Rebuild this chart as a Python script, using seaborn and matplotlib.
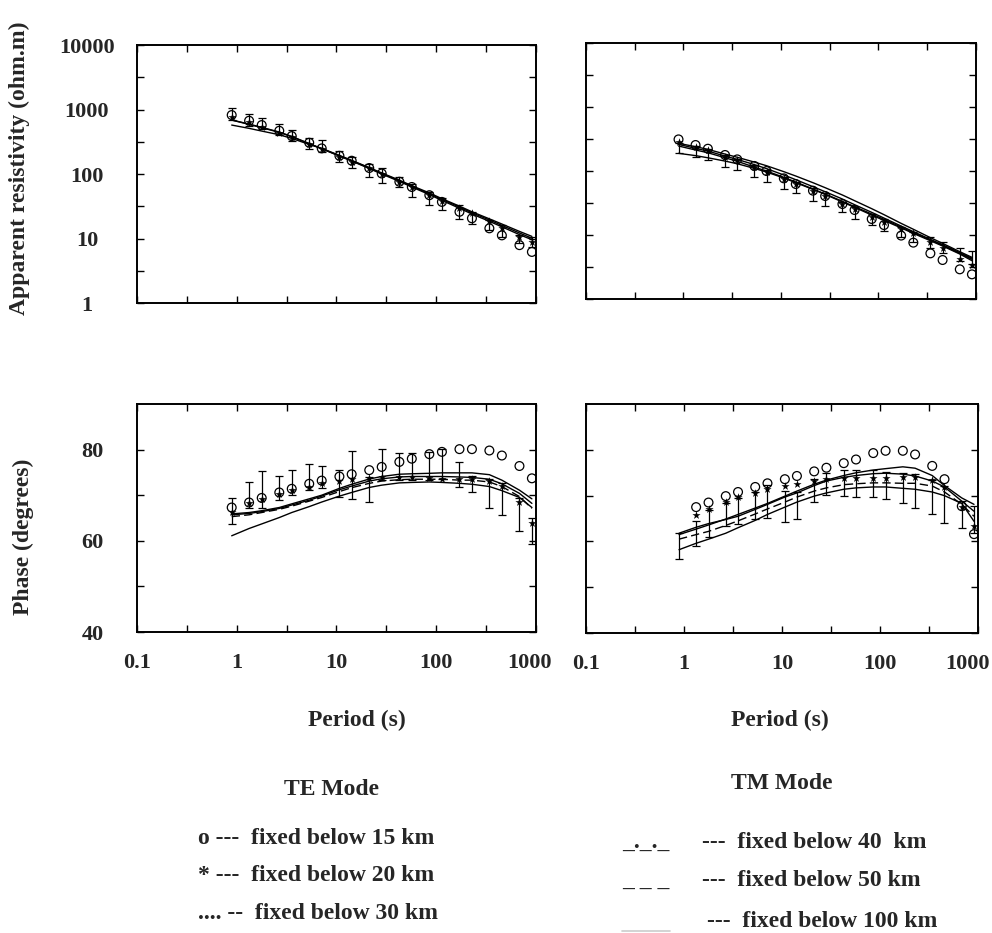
import numpy as np
import pandas as pd
import seaborn as sns
import matplotlib.pyplot as plt
from matplotlib.lines import Line2D
from matplotlib.transforms import ScaledTranslation

sns.set_theme(style='ticks')
plt.rcParams['font.family'] = ['Liberation Serif', 'DejaVu Serif']
plt.rcParams['font.weight'] = 'bold'

# Periodos (s)
periodo = [0.89, 1.33, 1.78, 2.67, 3.56, 5.33, 7.11, 10.7, 14.2, 21.3, 28.4,
           42.7, 56.9, 85.3, 114, 171, 228, 341, 455, 683, 910]

# TE - resistividad aparente
te_rho_o = [822, 671, 575, 469, 388, 306, 250, 192, 161, 124, 102, 76, 63, 47,
            37, 26, 20.6, 14.4, 11.2, 7.9, 6.2]
te_rho_star = [757, 633, 542, 437, 371, 289, 242, 185, 155, 122, 100, 76, 63, 47,
               38, 29.4, 24.6, 18.7, 14.7, 10.4, 8.7]
te_rho_bajo = [687, 555, 493, 402, 329, 241, 222, 152, 122, 88.8, 71.7, 62.9, 43.5,
               32.7, 27.3, 20.3, 16.8, 13.5, 10.7, 8.4, 7.5]
te_rho_alto = [1067, 852, 738, 603, 481, 366, 333, 225, 181, 143, 122, 90.9, 70,
               53.2, 42, 33, 26.1, 19.4, 16.2, 11.3, 10.7]
te_rho_l1 = [687, 589, 523, 443, 379, 295, 247, 192, 161, 124, 102, 78.8, 64.4,
             49.6, 40.5, 30.8, 25.1, 19.4, 16.0, 12.2, 10.1]
te_rho_l2 = [575, 511, 464, 407, 357, 288, 250, 195, 163, 126, 104, 80.5, 66, 51,
             41.5, 31.8, 26, 20.2, 16.8, 12.9, 10.8]
te_rho_l3 = [690, 595, 530, 448, 383, 297, 247, 190, 159, 122, 100, 77, 63, 48,
             39, 29.5, 24, 18.5, 15.2, 11.5, 9.6]

# TM - resistividad aparente
tm_rho_o = [312, 255, 223, 178, 152, 120, 100, 76.8, 62.6, 49.3, 40.7, 30.5, 24.6,
            17.8, 14.3, 9.8, 7.6, 5.17, 4.07, 2.91, 2.43]
tm_rho_star = [281, 240, 213, 167, 149, 114, 95.3, 74.1, 62.6, 48.7, 40.7, 30.5,
               25.2, 19.3, 16.2, 12.3, 10.6, 7.9, 6.19, 4.22, 3.40]
tm_rho_bajo = [189, 167, 149, 117, 104, 81.5, 68.1, 52.3, 44.8, 34.4, 28.7, 22.6,
               17.8, 14.3, 11.7, 9.4, 7.9, 6.19, 5.17, 3.97, 3.52]
tm_rho_alto = [271, 246, 218, 178, 152, 124, 104, 81.5, 68.1, 53.6, 44.8, 33.2,
               27.7, 21.3, 17.6, 13.5, 11.3, 9.2, 7.87, 6.19, 5.69]
tm_rho_l1 = [271, 240, 218, 184, 164, 138, 121, 97.7, 83.5, 65.7, 54.9, 42.2, 34.4,
             25.8, 20.8, 15.2, 12.3, 9.1, 7.41, 5.49, 4.48]
tm_rho_l2 = [261, 226, 205, 171, 152, 126, 109, 86.6, 73.2, 56.9, 47.5, 36.5, 29.8,
             22.6, 18.4, 13.8, 11.3, 8.55, 7.06, 5.30, 4.32]
tm_rho_l3 = [246, 213, 193, 161, 142, 115, 100, 79.6, 67.3, 52.3, 43.7, 33.6, 27.7,
             21.3, 17.6, 13.3, 10.9, 8.35, 6.90, 5.17, 4.17]
tm_rho_l4 = [189, 174, 161, 143, 130, 110, 96.4, 77.8, 65.7, 51.7, 43.2, 32.8, 27.1,
             20.5, 16.9, 12.9, 10.6, 8.15, 6.73, 5.05, 3.97]

# TE - fase
te_fase_o = [67.3, 68.4, 69.4, 70.6, 71.4, 72.5, 73.2, 74.1, 74.6, 75.5, 76.2, 77.3,
             78.0, 79.0, 79.5, 80.1, 80.1, 79.8, 78.7, 76.4, 73.7]
te_fase_star = [66.4, 68.2, 69.2, 70.2, 71.1, 71.9, 72.6, 73.2, 73.5, 73.8, 74.1,
                74.0, 73.9, 73.8, 73.6, 73.5, 73.5, 73.1, 72.0, 68.4, 64.0]
te_fase_obs = [66.5, 70.0, 71.3, 71.6, 72.8, 74.0, 73.9, 72.6, 74.4, 71.25, 76.7,
               76.3, 76.3, 76.4, 76.8, 74.5, 72.4, 70.4, 69.1, 65.7, 62.1]
te_fase_err = [2.8, 2.9, 4.1, 2.7, 2.7, 2.8, 2.4, 2.9, 5.2, 2.8, 3.4, 2.9, 3.0, 3.0,
               3.3, 2.8, 1.8, 3.1, 3.5, 3.6, 2.9]
te_fase_l1 = [65.9, 66.2, 66.6, 67.3, 68.1, 69.2, 70.0, 71.5, 72.4, 73.55, 74.1, 74.6,
              74.7, 74.8, 74.9, 74.9, 74.9, 74.5, 73.3, 71.1, 69.2]
te_fase_l2 = [65.7, 66.0, 66.4, 67.1, 67.85, 68.9, 69.8, 71.2, 72.0, 73.1, 73.6, 74.0,
              74.1, 74.1, 74.1, 74.0, 73.9, 73.5, 72.5, 70.4, 68.2]
te_fase_l3 = [65.3, 65.7, 66.2, 66.9, 67.6, 68.7, 69.5, 70.8, 71.65, 72.6, 73.1, 73.4,
              73.5, 73.5, 73.5, 73.3, 73.3, 72.9, 71.9, 69.7, 67.1]
te_fase_l4 = [61.1, 62.7, 63.7, 65.1, 66.2, 67.5, 68.5, 69.8, 70.6, 71.7, 72.2, 72.7,
              72.8, 72.9, 72.8, 72.6, 72.4, 71.9, 71.0, 69.5, 67.3]

# TM - fase
tm_fase_o = [np.nan, 67.5, 68.5, 69.9, 70.8, 71.9, 72.7, 73.6, 74.3, 75.3, 76.1, 77.1,
             77.9, 79.3, 79.8, 79.8, 79.0, 76.5, 73.6, 67.7, 61.6]
tm_fase_star = [np.nan, 65.7, 67.0, 68.6, 69.7, 70.6, 71.4, 72.1, 72.6, 73.2, 73.6,
                73.8, 73.9, 73.9, 73.9, 74.1, 74.1, 73.4, 71.9, 67.5, 63.3]
tm_fase_obs = [59.0, 61.7, 63.9, 65.9, 66.7, 67.8, 68.7, 67.6, 67.8, 71.2, 72.6, 72.8,
               72.7, 72.7, 72.2, 71.7, 71.0, 69.7, 68.1, 65.9, 64.8]
tm_fase_err = [2.9, 2.8, 3.0, 2.6, 2.8, 3.0, 3.6, 3.4, 3.0, 2.5, 2.4, 2.9, 2.9, 2.9,
               2.9, 3.3, 3.7, 3.8, 4.0, 3.0, 2.9]
tm_fase_l1 = [61.5, 62.7, 63.6, 64.9, 65.9, 67.3, 68.3, 69.9, 71.0, 72.5, 73.4, 74.4,
              75.0, 75.6, 75.9, 76.3, 76.0, 74.4, 72.2, 69.5, 68.1]
tm_fase_l2 = [61.8, 63.1, 63.9, 64.8, 65.5, 67.0, 68.1, 69.7, 70.6, 72.2, 73.2, 74.0,
              74.4, 74.8, 74.9, 74.7, 74.3, 73.2, 71.9, 68.8, 66.6]
tm_fase_l3 = [60.5, 61.5, 62.2, 63.5, 64.5, 66.0, 67.1, 68.6, 69.7, 71.0, 71.7, 72.4,
              72.6, 72.8, 72.8, 72.7, 72.7, 72.1, 70.8, 68.1, 65.5]
tm_fase_l4 = [58.2, 59.6, 60.5, 61.8, 63.0, 64.6, 65.9, 67.5, 68.6, 69.9, 70.6, 71.4,
              71.7, 71.9, 71.9, 71.6, 71.4, 70.8, 70.0, 68.3, 64.4]

x_ticks = [0.1, 1, 10, 100, 1000]
x_labels = ['0.1', '1', '10', '100', '1000']
rho_ticks = [1, 10, 100, 1000, 10000]
rho_labels = ['1', '10', '100', '1000', '10000']
fase_ticks = [40, 60, 80]
fase_labels = ['40', '60', '80']


def dibujar(ax, lineas, estilos, circulos, estrellas, bajo, yerr):
    for vals, ls in zip(lineas, estilos):
        sns.lineplot(x=periodo, y=vals, ax=ax, color='black', linewidth=1.0,
                     linestyle=ls, estimator=None, sort=False)
    ax.errorbar(periodo, bajo, yerr=yerr, fmt='none', ecolor='black',
                elinewidth=0.9, capsize=2.6, capthick=0.9)
    sns.scatterplot(x=periodo, y=circulos, ax=ax, marker='o', s=40,
                    facecolor='none', edgecolor='black', linewidth=0.9)
    sns.scatterplot(x=periodo, y=estrellas, ax=ax, marker='*', s=38,
                    color='black', linewidth=0)
    ax.set_xlabel('')
    ax.set_ylabel('')


fig = plt.figure(figsize=(9.92, 9.33), dpi=100)
ax_tl = fig.add_axes([0.1381, 0.6752, 0.4022, 0.2765])
ax_tr = fig.add_axes([0.5907, 0.6795, 0.3931, 0.2744])
ax_bl = fig.add_axes([0.1381, 0.3226, 0.4022, 0.2444])
ax_br = fig.add_axes([0.5907, 0.3215, 0.3952, 0.2454])

for ax in [ax_tl, ax_tr, ax_bl, ax_br]:
    ax.set_xscale('log')
for ax in [ax_tl, ax_tr]:
    ax.set_yscale('log')

dibujar(ax_tl, [te_rho_l1, te_rho_l2, te_rho_l3], ['-', '-', '-'],
        te_rho_o, te_rho_star, te_rho_bajo,
        [np.zeros(len(periodo)), np.array(te_rho_alto) - np.array(te_rho_bajo)])
dibujar(ax_tr, [tm_rho_l1, tm_rho_l2, tm_rho_l3, tm_rho_l4], ['-', '-', '-', '-'],
        tm_rho_o, tm_rho_star, tm_rho_bajo,
        [np.zeros(len(periodo)), np.array(tm_rho_alto) - np.array(tm_rho_bajo)])
dibujar(ax_bl, [te_fase_l1, te_fase_l2, te_fase_l3, te_fase_l4], ['-', '-', (0, (6, 3)), '-'],
        te_fase_o, te_fase_star, te_fase_obs, te_fase_err)
dibujar(ax_br, [tm_fase_l1, tm_fase_l2, tm_fase_l3, tm_fase_l4], ['-', '-', (0, (6, 3)), '-'],
        tm_fase_o, tm_fase_star, tm_fase_obs, tm_fase_err)

for ax in [ax_tl, ax_tr, ax_bl, ax_br]:
    ax.set_xlim(0.1, 1000)
    ax.set_xticks(x_ticks, labels=x_labels)
    ax.set_xticks([0.316, 3.16, 31.6, 316], minor=True)
    ax.xaxis.set_minor_formatter(plt.NullFormatter())
    ax.tick_params(which='both', direction='in', top=True, right=True,
                   length=5, width=1.0, color='black')
    ax.tick_params(axis='x', which='major', pad=15, labelsize=16)
    ax.tick_params(axis='y', which='major', labelsize=16)
    for sp in ax.spines.values():
        sp.set_linewidth(1.4)
        sp.set_color('black')

for ax in [ax_tl, ax_tr]:
    ax.set_ylim(1, 10000)
    ax.set_yticks(rho_ticks, labels=rho_labels)
    ax.set_yticks([3.16, 31.6, 316, 3162], minor=True)
    ax.yaxis.set_minor_formatter(plt.NullFormatter())
    ax.tick_params(axis='x', labelbottom=False)

for ax in [ax_bl, ax_br]:
    ax.set_ylim(40, 90)
    ax.set_yticks(fase_ticks, labels=fase_labels)
    ax.set_yticks([50, 70], minor=True)

ax_tr.tick_params(axis='y', labelleft=False)
ax_br.tick_params(axis='y', labelleft=False)
ax_tl.tick_params(axis='y', which='major', pad=36)
ax_bl.tick_params(axis='y', which='major', pad=32)
for ax in [ax_tl, ax_bl, ax_br]:
    for lab in ax.get_yticklabels() + ax.get_xticklabels():
        lab.set_fontweight('bold')
for lab in ax_tl.get_yticklabels() + ax_bl.get_yticklabels():
    lab.set_horizontalalignment('center')

# el ultimo rotulo "1000" va algo desplazado hacia dentro, como en el original
for ax, dx in [(ax_bl, -6), (ax_br, -11)]:
    lab = ax.get_xticklabels()[-1]
    lab.set_transform(lab.get_transform() + ScaledTranslation(dx / 100, 0, fig.dpi_scale_trans))

fig.text(0.0192, 0.820, 'Apparent resistivity (ohm.m)', rotation=90,
         ha='center', va='center', fontsize=17, fontweight='bold')
fig.text(0.024, 0.4244, 'Phase (degrees)', rotation=90,
         ha='center', va='center', fontsize=17, fontweight='bold')
fig.text(0.360, 0.2283, 'Period (s)', ha='center', va='center',
         fontsize=17, fontweight='bold')
fig.text(0.786, 0.2283, 'Period (s)', ha='center', va='center',
         fontsize=17, fontweight='bold')

# Leyendas de texto
fig.text(0.3337, 0.1543, 'TE Mode', ha='center', va='center', fontsize=17, fontweight='bold')
fig.text(0.788, 0.1597, 'TM Mode', ha='center', va='center', fontsize=17, fontweight='bold')
fig.text(0.1996, 0.1018, 'o ---  fixed below 15 km', ha='left', va='center',
         fontsize=17, fontweight='bold')
fig.text(0.1996, 0.0611, '* ---  fixed below 20 km', ha='left', va='center',
         fontsize=17, fontweight='bold')
fig.text(0.1996, 0.0214, '.... --  fixed below 30 km', ha='left', va='center',
         fontsize=17, fontweight='bold')
fig.text(0.627, 0.0975, '_._._', ha='left', va='center', fontsize=17, fontweight='bold')
fig.text(0.7077, 0.0975, '---  fixed below 40  km', ha='left', va='center',
         fontsize=17, fontweight='bold')
fig.text(0.627, 0.0568, '_ _ _', ha='left', va='center', fontsize=17, fontweight='bold')
fig.text(0.7077, 0.0568, '---  fixed below 50 km', ha='left', va='center',
         fontsize=17, fontweight='bold')
fig.text(0.7127, 0.0118, '---  fixed below 100 km', ha='left', va='center',
         fontsize=17, fontweight='bold')
fig.add_artist(Line2D([0.627, 0.675], [0.002, 0.002], color='#cccccc', lw=1.2))

fig.savefig('out.png', dpi=100)
